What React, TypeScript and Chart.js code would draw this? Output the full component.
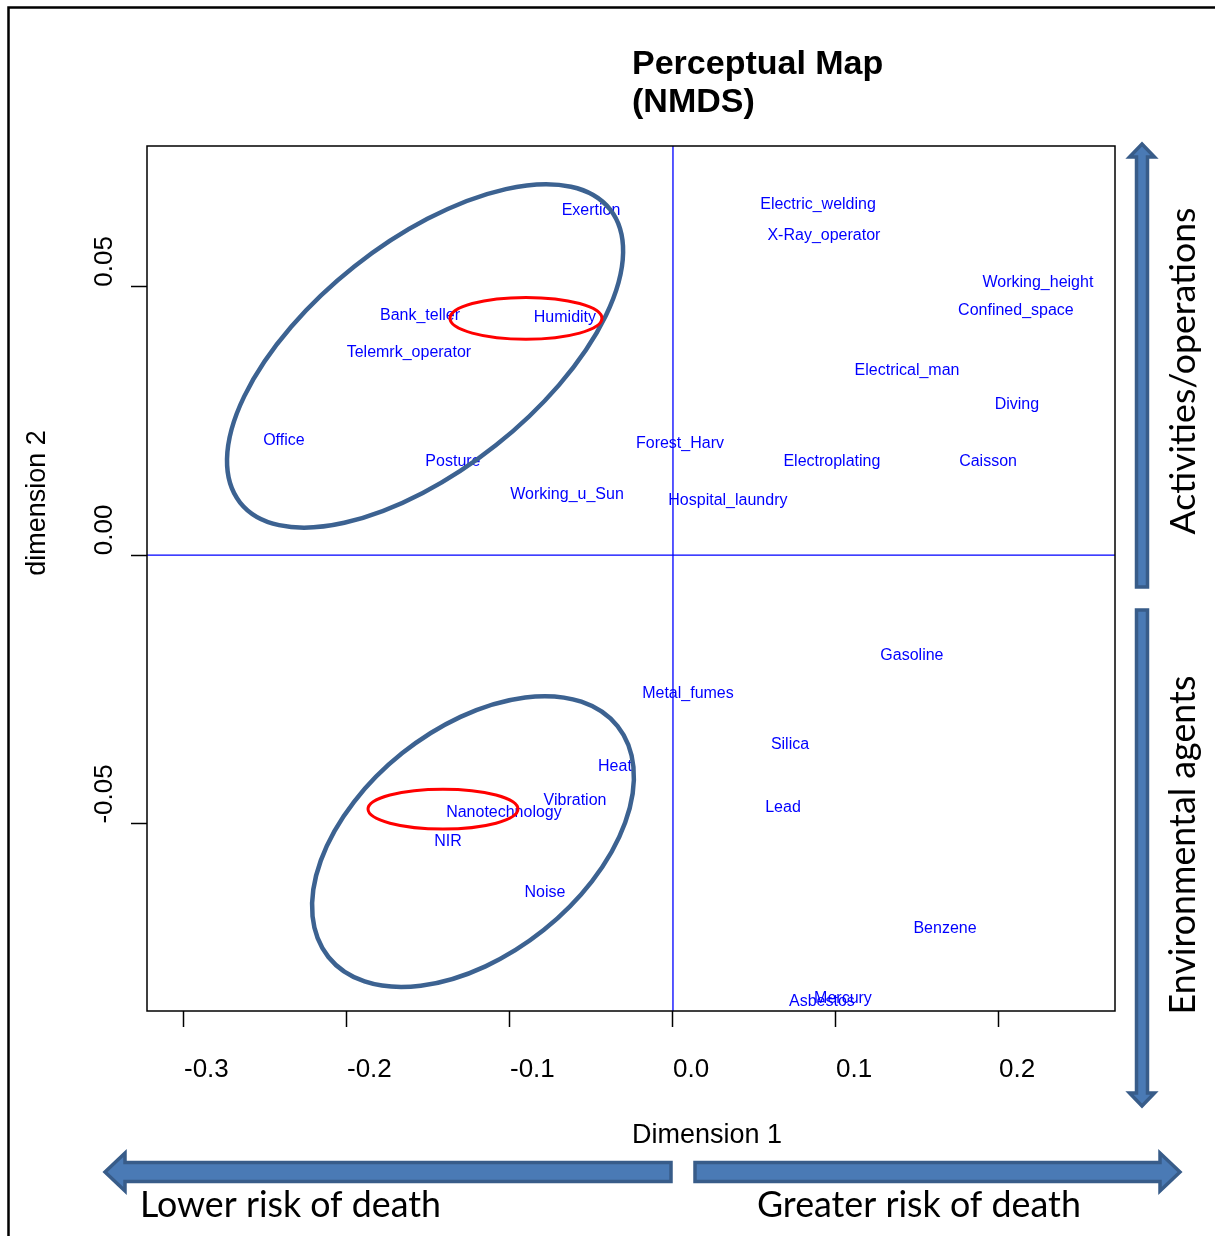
import React, { useEffect, useRef } from 'react';
import { Chart, registerables } from 'chart.js';

Chart.register(...registerables);

// ---- data (NMDS coordinates) ----
const hazardNames = [
  'Exertion', 'Electric_welding', 'X-Ray_operator', 'Working_height', 'Confined_space',
  'Bank_teller', 'Humidity', 'Telemrk_operator', 'Electrical_man', 'Diving',
  'Office', 'Forest_Harv', 'Posture', 'Electroplating', 'Caisson',
  'Working_u_Sun', 'Hospital_laundry', 'Gasoline', 'Metal_fumes', 'Silica',
  'Heat', 'Vibration', 'Lead', 'Nanotechnology', 'NIR',
  'Noise', 'Benzene', 'Asbestos', 'Mercury',
];
const dimension1 = [
  -0.0503, 0.0890, 0.0926, 0.2239, 0.2104,
  -0.1552, -0.0663, -0.1620, 0.1436, 0.2110,
  -0.2387, 0.0043, -0.1350, 0.0975, 0.1933,
  -0.0650, 0.0337, 0.1466, 0.0092, 0.0718,
  -0.0356, -0.0601, 0.0675, -0.1037, -0.1380,
  -0.0785, 0.1669, 0.0914, 0.1043,
];
const dimension2 = [
  0.0642, 0.0652, 0.0596, 0.0508, 0.0456,
  0.0447, 0.0443, 0.0378, 0.0343, 0.0281,
  0.0214, 0.0207, 0.0175, 0.0175, 0.0175,
  0.0113, 0.0102, -0.0188, -0.0257, -0.0352,
  -0.0393, -0.0458, -0.0471, -0.0479, -0.0533,
  -0.0628, -0.0695, -0.0831, -0.0825,
];

const xTickValues = [-0.3, -0.2, -0.1, 0.0, 0.1, 0.2];
const yTickValues = [-0.05, 0.0, 0.05];
const xLimits = [-0.3227, 0.2712];
const yLimits = [-0.0849, 0.0762];

// grouping ellipses: centre and two half-diameter vectors, in data units
const ellipseKind = ['group', 'core', 'group', 'core'];
const ellipseCentreX = [-0.1521, -0.0902, -0.1227, -0.1411];
const ellipseCentreY = [0.0371, 0.0441, -0.05335, -0.0473];
const ellipseAxisU = [[0.1135, 0.0273], [0.0466, 0.0], [0.0887, 0.02149], [0.0460, 0.0]];
const ellipseAxisV = [[0.0434, -0.01665], [0.0, 0.0039], [0.04337, -0.01648], [0.0, 0.00372]];

const titleLines = ['Perceptual Map', '(NMDS)'];
const xAxisTitle = 'Dimension 1';
const yAxisTitle = 'dimension 2';
const topSideLabel = 'Activities/operations';
const bottomSideLabel = 'Environmental agents';
const leftRiskLabel = 'Lower risk of death';
const rightRiskLabel = 'Greater risk of death';

const SANS = '"Liberation Sans", Arial, Helvetica, sans-serif';
const CAL = 'Lato, "Open Sans", sans-serif';

function fitSize(ctx: CanvasRenderingContext2D, text: string, family: string, target: number) {
  ctx.font = `100px ${family}`;
  const w = ctx.measureText(text).width;
  return (100 * target) / w;
}

function blockArrow(ctx: CanvasRenderingContext2D, x1: number, y1: number, x2: number, y2: number,
  sw: number, hw: number, hl: number) {
  const dx = x2 - x1, dy = y2 - y1;
  const L = Math.hypot(dx, dy);
  const ux = dx / L, uy = dy / L, px = -uy, py = ux;
  const bx = x2 - ux * hl, by = y2 - uy * hl;
  const pts = [
    [x1 + px * sw / 2, y1 + py * sw / 2],
    [bx + px * sw / 2, by + py * sw / 2],
    [bx + px * hw / 2, by + py * hw / 2],
    [x2, y2],
    [bx - px * hw / 2, by - py * hw / 2],
    [bx - px * sw / 2, by - py * sw / 2],
    [x1 - px * sw / 2, y1 - py * sw / 2],
  ];
  ctx.beginPath();
  pts.forEach((p, i) => (i ? ctx.lineTo(p[0], p[1]) : ctx.moveTo(p[0], p[1])));
  ctx.closePath();
  ctx.fillStyle = '#4A7AB5';
  ctx.fill();
  ctx.strokeStyle = '#385C89';
  ctx.lineWidth = 3.5;
  ctx.lineJoin = 'miter';
  ctx.stroke();
}

const decorations = {
  id: 'decorations',
  afterDraw(chart: any) {
    const { ctx, chartArea: a } = chart;
    const xs = chart.scales.x;
    const ys = chart.scales.y;
    ctx.save();

    // outer frame
    ctx.strokeStyle = '#000';
    ctx.lineWidth = 2.5;
    ctx.beginPath();
    ctx.moveTo(8.5, 1236);
    ctx.lineTo(8.5, 7.5);
    ctx.lineTo(1215, 7.5);
    ctx.stroke();

    // zero reference lines
    const x0 = xs.getPixelForValue(0);
    const y0 = ys.getPixelForValue(0);
    ctx.strokeStyle = '#0000FF';
    ctx.lineWidth = 1.3;
    ctx.beginPath();
    ctx.moveTo(x0, a.top);
    ctx.lineTo(x0, a.bottom);
    ctx.moveTo(a.left, y0);
    ctx.lineTo(a.right, y0);
    ctx.stroke();

    // plot box
    ctx.strokeStyle = '#000';
    ctx.lineWidth = 1.5;
    ctx.strokeRect(a.left, a.top, a.right - a.left, a.bottom - a.top);

    // point labels at dataset element positions
    const meta = chart.getDatasetMeta(0);
    ctx.font = `16px ${SANS}`;
    ctx.fillStyle = '#0000FF';
    ctx.textAlign = 'center';
    ctx.textBaseline = 'middle';
    meta.data.forEach((el: any, i: number) => {
      ctx.fillText(hazardNames[i], el.x, el.y);
    });

    // ellipses
    ellipseKind.forEach((kind, i) => {
      const cx = xs.getPixelForValue(ellipseCentreX[i]);
      const cy = ys.getPixelForValue(ellipseCentreY[i]);
      const ux = xs.getPixelForValue(ellipseCentreX[i] + ellipseAxisU[i][0]) - cx;
      const uy = ys.getPixelForValue(ellipseCentreY[i] + ellipseAxisU[i][1]) - cy;
      const vx = xs.getPixelForValue(ellipseCentreX[i] + ellipseAxisV[i][0]) - cx;
      const vy = ys.getPixelForValue(ellipseCentreY[i] + ellipseAxisV[i][1]) - cy;
      ctx.beginPath();
      ctx.save();
      ctx.transform(ux, uy, vx, vy, cx, cy);
      ctx.arc(0, 0, 1, 0, Math.PI * 2);
      ctx.restore();
      ctx.strokeStyle = kind === 'group' ? '#3C6291' : '#FF0000';
      ctx.lineWidth = kind === 'group' ? 4.5 : 3;
      ctx.stroke();
    });

    // title
    ctx.fillStyle = '#000';
    ctx.textAlign = 'left';
    ctx.textBaseline = 'alphabetic';
    ctx.font = `bold 34px ${SANS}`;
    ctx.fillText(titleLines[0], 632, 74);
    ctx.fillText(titleLines[1], 632, 112);

    // axis titles
    ctx.font = `27px ${SANS}`;
    ctx.textBaseline = 'middle';
    ctx.fillText(xAxisTitle, 632, 1136);
    ctx.save();
    ctx.translate(38, 503);
    ctx.rotate(-Math.PI / 2);
    ctx.textAlign = 'center';
    ctx.fillText(yAxisTitle, 0, 0);
    ctx.restore();

    // arrows
    blockArrow(ctx, 671, 1172, 105, 1172, 19, 38, 20);
    blockArrow(ctx, 695, 1172, 1180, 1172, 19, 38, 20);
    blockArrow(ctx, 1142, 587, 1142, 144, 11, 25, 13);
    blockArrow(ctx, 1142, 610, 1142, 1106, 11, 25, 13);

    // side and bottom annotations
    ctx.fillStyle = '#000';
    let s = fitSize(ctx, leftRiskLabel, CAL, 301);
    ctx.font = `${s}px ${CAL}`;
    ctx.textAlign = 'left';
    ctx.textBaseline = 'alphabetic';
    ctx.fillText(leftRiskLabel, 140, 1217);
    s = fitSize(ctx, rightRiskLabel, CAL, 324);
    ctx.font = `${s}px ${CAL}`;
    ctx.fillText(rightRiskLabel, 757, 1217);

    const sideText = (text: string, cy: number, len: number) => {
      const sz = fitSize(ctx, text, CAL, len);
      ctx.save();
      ctx.font = `${sz}px ${CAL}`;
      ctx.translate(1183, cy);
      ctx.rotate(-Math.PI / 2);
      ctx.textAlign = 'center';
      ctx.textBaseline = 'middle';
      ctx.fillText(text, 0, 0);
      ctx.restore();
    };
    sideText(topSideLabel, 371, 327);
    sideText(bottomSideLabel, 845, 339);

    ctx.restore();
  },
};

export default function App() {
  const canvasRef = useRef<HTMLCanvasElement | null>(null);

  useEffect(() => {
    const canvas = canvasRef.current;
    if (!canvas) return;
    const points = dimension1.map((x, i) => ({ x, y: dimension2[i] }));
    const chart = new Chart(canvas, {
      type: 'scatter',
      data: {
        datasets: [
          {
            label: 'Hazards',
            data: points,
            pointRadius: 0,
            pointHoverRadius: 0,
          },
        ],
      },
      options: {
        animation: false,
        responsive: false,
        devicePixelRatio: 1,
        events: [],
        layout: { padding: { left: 92, top: 146, right: 100, bottom: 0 } },
        plugins: {
          legend: { display: false },
          tooltip: { enabled: false },
          title: { display: false },
        },
        scales: {
          x: {
            type: 'linear',
            position: 'bottom',
            min: xLimits[0],
            max: xLimits[1],
            afterBuildTicks: (scale: any) => {
              scale.ticks = xTickValues.map((v) => ({ value: v }));
            },
            afterFit: (scale: any) => {
              scale.height = 225;
            },
            border: { display: false },
            grid: {
              drawOnChartArea: false,
              drawTicks: true,
              tickLength: 16,
              tickColor: '#000',
              tickWidth: 1.5,
            },
            ticks: {
              autoSkip: false,
              align: 'start',
              maxRotation: 0,
              minRotation: 0,
              padding: 27,
              color: '#000',
              font: { family: SANS, size: 26 },
              callback: (v: any) => Number(v).toFixed(1),
            },
          },
          y: {
            type: 'linear',
            position: 'left',
            min: yLimits[0],
            max: yLimits[1],
            afterBuildTicks: (scale: any) => {
              scale.ticks = yTickValues.map((v) => ({ value: v }));
            },
            afterFit: (scale: any) => {
              scale.width = 55;
            },
            border: { display: false },
            grid: {
              drawOnChartArea: false,
              drawTicks: true,
              tickLength: 16,
              tickColor: '#000',
              tickWidth: 1.5,
            },
            ticks: {
              autoSkip: false,
              minRotation: 90,
              maxRotation: 90,
              crossAlign: 'far',
              align: 'start',
              color: '#000',
              font: { family: SANS, size: 26 },
              callback: (v: any) => Number(v).toFixed(2),
            },
          },
        },
      } as any,
      plugins: [decorations],
    });
    return () => chart.destroy();
  }, []);

  return (
    <div style={{ position: 'absolute', left: 0, top: 0, width: 1215, height: 1236, background: '#fff' }}>
      <canvas ref={canvasRef} width={1215} height={1236} style={{ width: 1215, height: 1236, display: 'block' }} />
    </div>
  );
}
